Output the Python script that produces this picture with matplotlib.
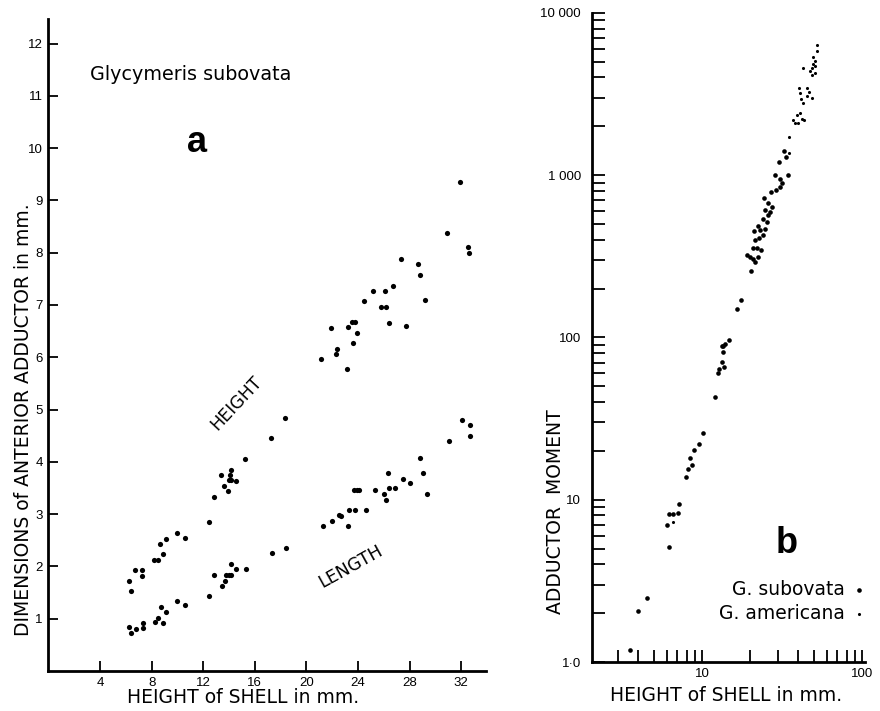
import numpy as np
import matplotlib
matplotlib.use("Agg")
import matplotlib.pyplot as plt
from matplotlib.ticker import FixedLocator, LogLocator, NullFormatter

plt.rcParams['font.family'] = ['Liberation Sans', 'DejaVu Sans']
LABEL_FONT = ['DejaVu Sans']

# panel a: shell height (mm) vs adductor height / length (mm)
height_x = [6.27, 6.4, 6.74, 7.28, 7.28, 8.16, 8.5, 8.67, 8.88, 9.12, 9.97, 10.57,
            12.43, 12.84, 13.38, 13.59, 13.9, 13.98, 14.13, 14.1, 14.13, 14.52, 15.24,
            17.26, 18.34, 21.13, 21.9, 22.32, 22.37, 23.15, 23.2, 23.53, 23.64, 23.79,
            23.95, 24.49, 25.14, 25.78, 26.09, 26.17, 26.38, 26.74, 27.36, 27.72, 28.63,
            28.81, 29.17, 30.9, 31.9, 32.5, 32.58]
height_y = [1.73, 1.53, 1.93, 1.93, 1.82, 2.12, 2.12, 2.42, 2.23, 2.52, 2.63, 2.54,
            2.85, 3.33, 3.75, 3.54, 3.45, 3.65, 3.84, 3.75, 3.65, 3.63, 4.05,
            4.45, 4.84, 5.97, 6.56, 6.07, 6.16, 5.77, 6.57, 6.67, 6.27, 6.67,
            6.47, 7.08, 7.27, 6.97, 7.26, 6.97, 6.65, 7.37, 7.88, 6.59, 7.79,
            7.58, 7.09, 8.37, 9.36, 8.1, 7.99]

length_x = [6.25, 6.4, 6.81, 7.36, 7.31, 8.24, 8.5, 8.7, 8.88, 9.14, 9.97, 10.6,
            12.43, 12.86, 13.43, 13.69, 13.77, 13.98, 14.18, 14.13, 14.57, 15.34,
            17.31, 18.42, 21.29, 22.0, 22.53, 22.66, 23.22, 23.33, 23.79, 23.69, 23.9,
            24.1, 24.62, 25.32, 26.04, 26.17, 26.3, 26.43, 26.9, 27.51, 28.0, 28.78,
            29.02, 29.33, 31.03, 32.04, 32.68, 32.68]
length_y = [0.84, 0.72, 0.81, 0.92, 0.82, 0.94, 1.02, 1.22, 0.92, 1.13, 1.33, 1.26,
            1.44, 1.84, 1.63, 1.73, 1.84, 1.84, 1.84, 2.05, 1.95, 1.95,
            2.25, 2.36, 2.77, 2.87, 2.98, 2.96, 2.77, 3.08, 3.08, 3.46, 3.46,
            3.46, 3.07, 3.47, 3.38, 3.27, 3.79, 3.49, 3.49, 3.68, 3.59, 4.08,
            3.79, 3.38, 4.39, 4.8, 4.7, 4.49]

# panel b: shell height (mm) vs adductor moment, log-log
sub_x = [3.55, 4.0, 4.51, 6.22, 6.04, 6.22, 6.56, 7.11, 7.21, 7.94, 8.18, 8.62,
         8.41, 8.87, 9.62, 10.1, 12.0, 12.5, 12.8, 13.3, 13.8, 13.6, 13.3, 13.6,
         13.9, 14.7, 16.5, 17.5, 20.1, 19.0, 20.9, 21.4, 19.9, 22.5, 23.4, 22.0,
         20.7, 21.4, 22.7, 24.2, 21.1, 23.0, 24.8, 22.5, 25.4, 23.9, 26.0, 26.6,
         27.2, 24.8, 26.0, 24.5, 26.9, 29.0, 30.7, 31.5, 30.7, 28.5, 34.3, 30.4,
         33.5, 32.3]
sub_y = [1.18, 2.05, 2.47, 5.13, 6.98, 8.2, 8.2, 8.3, 9.35, 13.8, 15.5, 16.4,
         18.0, 20.3, 22.2, 25.7, 43.2, 60.0, 64.0, 70.5, 65.8, 81.0, 88.5, 88.0,
         91.5, 97.0, 149, 169, 255, 321, 305, 292, 314, 314, 346, 358,
         358, 397, 410, 426, 450, 458, 467, 489, 515, 538, 565, 591,
         633, 607, 670, 723, 785, 805, 845, 890, 945, 1000, 1000, 1200,
         1290, 1400]

amer_x = [6.56, 35.1, 34.7, 37.2, 39.0, 41.0, 42.0, 40.0, 38.1, 43.1, 40.6, 41.0,
          41.3, 42.6, 45.5, 46.9, 48.5, 45.0, 42.6, 48.5, 47.5, 48.5, 50.9, 49.6,
          50.9, 49.6, 52.2, 52.5, 50.9]
amer_y = [7.24, 1360, 1730, 2185, 2340, 2410, 2225, 2085, 2095, 2185, 3430, 3200,
          2960, 2800, 3430, 3250, 3000, 3090, 4560, 4560, 4370, 4160, 4270, 4860,
          5070, 5370, 5850, 6300, 4730]

a_xticks = [4, 8, 12, 16, 20, 24, 28, 32]
a_yticks = list(range(1, 13))
b_yticks = [1, 10, 100, 1000, 10000]
b_ylabels = ['1\u00b70', '10', '100', '1 000', '10 000']
b_xticks = [10, 100]

fig = plt.figure(figsize=(8.8, 7.11), dpi=100)

# ---------------- panel a ----------------
ax = fig.add_axes([0.055, 0.0563, 0.497, 0.917])
ax.scatter(height_x, height_y, s=14, color='black', linewidths=0)
ax.scatter(length_x, length_y, s=14, color='black', linewidths=0)
ax.set_xlim(0, 33.9)
ax.set_ylim(0, 12.47)
ax.set_xticks(a_xticks)
ax.set_yticks(a_yticks)
ax.spines['top'].set_visible(False)
ax.spines['right'].set_visible(False)
for s in ['left', 'bottom']:
    ax.spines[s].set_linewidth(2)
ax.tick_params(direction='in', length=7, width=1.3, labelsize=9.5, pad=4)
ax.set_xlabel('HEIGHT of SHELL in mm.', fontsize=13.5, family=LABEL_FONT)
ax.xaxis.set_label_coords(0.445, -0.026)
ax.set_ylabel('DIMENSIONS of ANTERIOR ADDUCTOR in mm.', fontsize=13.5, family=LABEL_FONT)
ax.yaxis.set_label_coords(-0.036, 0.385)
ax.text(3.2, 11.4, 'Glycymeris subovata', fontsize=13.8, va='center', ha='left',
        family=LABEL_FONT)
ax.text(11.5, 10.1, 'a', fontsize=26, fontweight='bold', ha='center', va='center')
ax.text(14.6, 5.12, 'HEIGHT', fontsize=12.5, rotation=47, ha='center', va='center',
        family=LABEL_FONT)
ax.text(23.4, 1.99, 'LENGTH', fontsize=12.5, rotation=29, ha='center', va='center',
        family=LABEL_FONT)

# ---------------- panel b ----------------
bx = fig.add_axes([0.6727, 0.0689, 0.310, 0.913])
bx.scatter(sub_x, sub_y, s=11, color='black', linewidths=0, label='G. subovata')
bx.scatter(amer_x, amer_y, s=5, color='black', linewidths=0, label='G. americana')
bx.set_xscale('log')
bx.set_yscale('log')
bx.set_xlim(2.05, 104)
bx.set_ylim(1, 10000)
bx.yaxis.set_major_locator(FixedLocator(b_yticks))
bx.set_yticklabels(b_ylabels)
bx.yaxis.set_minor_locator(LogLocator(base=10, subs=np.arange(2, 10)))
bx.yaxis.set_minor_formatter(NullFormatter())
bx.xaxis.set_major_locator(FixedLocator(b_xticks))
bx.set_xticklabels([str(t) for t in b_xticks])
bx.xaxis.set_minor_locator(LogLocator(base=10, subs=np.arange(2, 10)))
bx.xaxis.set_minor_formatter(NullFormatter())
bx.spines['top'].set_visible(False)
bx.spines['right'].set_visible(False)
for s in ['left', 'bottom']:
    bx.spines[s].set_linewidth(2)
bx.tick_params(which='both', direction='in', length=9, width=1.3, labelsize=9.5)
bx.tick_params(axis='y', pad=8)
bx.tick_params(axis='x', pad=4)
bx.set_xlabel('HEIGHT of SHELL in mm.', fontsize=13.5, family=LABEL_FONT)
bx.xaxis.set_label_coords(0.49, -0.037)
bx.set_ylabel('ADDUCTOR  MOMENT', fontsize=13.5, family=LABEL_FONT)
bx.yaxis.set_label_coords(-0.1, 0.231)
bx.text(34, 5.35, 'b', fontsize=26, fontweight='bold', ha='center', va='center')
leg = bx.legend(loc='lower right', bbox_to_anchor=(1.0, 0.06), frameon=False,
                markerfirst=False, prop={'family': LABEL_FONT, 'size': 13.5},
                handlelength=0.6, handletextpad=0.45, labelspacing=0.25,
                borderpad=0, borderaxespad=0)

fig.savefig('out.png', dpi=100)
